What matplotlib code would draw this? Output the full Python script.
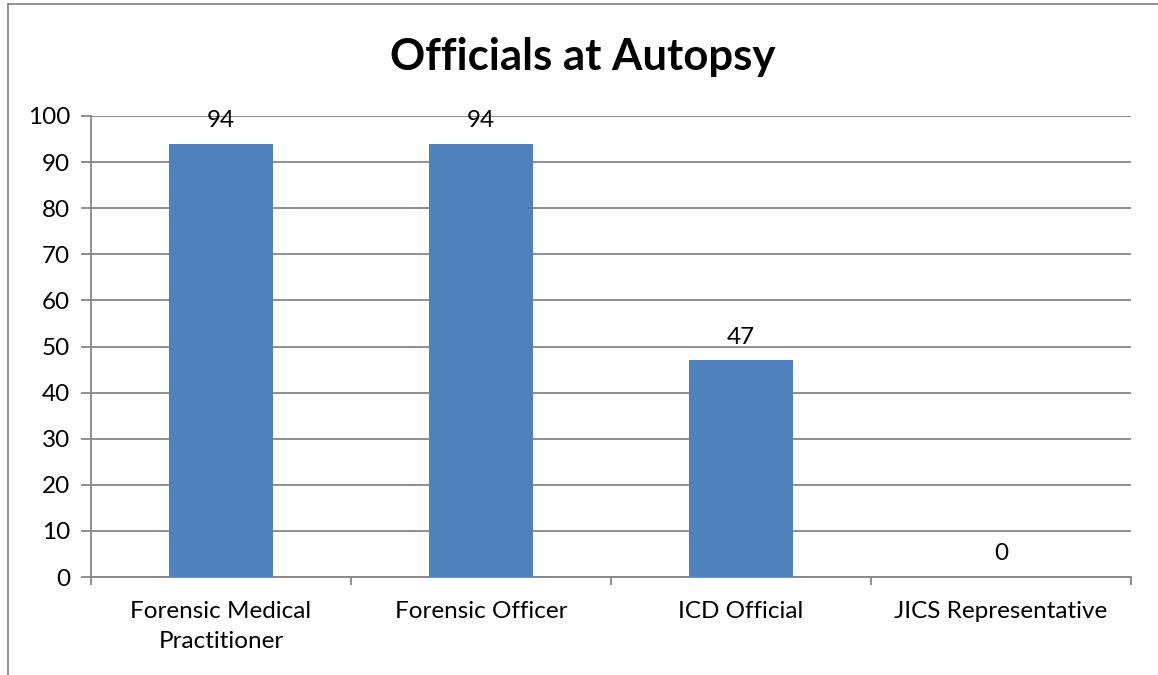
import numpy as np
import matplotlib.pyplot as plt
from matplotlib.lines import Line2D

categories = ['Forensic Medical\nPractitioner', 'Forensic Officer', 'ICD Official', 'JICS Representative']
values = [94, 94, 47, 0]
yticks = list(range(0, 101, 10))

plt.rcParams['font.family'] = ['Lato', 'DejaVu Sans']
grey = '#868686'

fig = plt.figure(figsize=(11.58, 6.75), dpi=100)
ax = fig.add_axes([91/1158, 1-577/675, 1040/1158, 461/675])

x = np.arange(len(categories))
bars = ax.bar(x, values, width=0.4, color='#4F81BD', zorder=3)
for b, v in zip(bars, values):
    ax.annotate(str(v), (b.get_x() + b.get_width()/2, v), xytext=(0, 9),
                textcoords='offset points', ha='center', va='bottom', fontsize=17.5)

ax.set_xlim(-0.5, len(categories) - 0.5)
ax.set_ylim(0, 100)
ax.set_yticks(yticks)
ax.yaxis.grid(True, color=grey, linewidth=1.3, zorder=0)
ax.set_xticks(np.arange(-0.5, len(categories), 1.0))
ax.set_xticklabels([])
ax.set_xticks(x, minor=True)
ax.set_xticklabels(categories, minor=True, fontsize=17.5, linespacing=1.55)
ax.tick_params(axis='x', which='minor', length=0, pad=17)
ax.tick_params(axis='x', which='major', length=6, color=grey, width=1.3)
ax.tick_params(axis='y', length=7, color=grey, width=1.3, labelsize=17.5, pad=8)
for s in ['top', 'right']:
    ax.spines[s].set_visible(False)
for s in ['left', 'bottom']:
    ax.spines[s].set_color(grey)
    ax.spines[s].set_linewidth(1.3)

fig.text(583/1158, 1-57/675, 'Officials at Autopsy', ha='center', va='center',
         fontsize=31.5, fontweight='bold')

# outer chart frame (only left and top edges visible in the crop)
fig.add_artist(Line2D([8/1158, 8/1158], [0, 1-4/675], transform=fig.transFigure, color='#808080', lw=1.2))
fig.add_artist(Line2D([8/1158, 1], [1-4/675, 1-4/675], transform=fig.transFigure, color='#808080', lw=1.2))

fig.savefig('out.png', dpi=100)
